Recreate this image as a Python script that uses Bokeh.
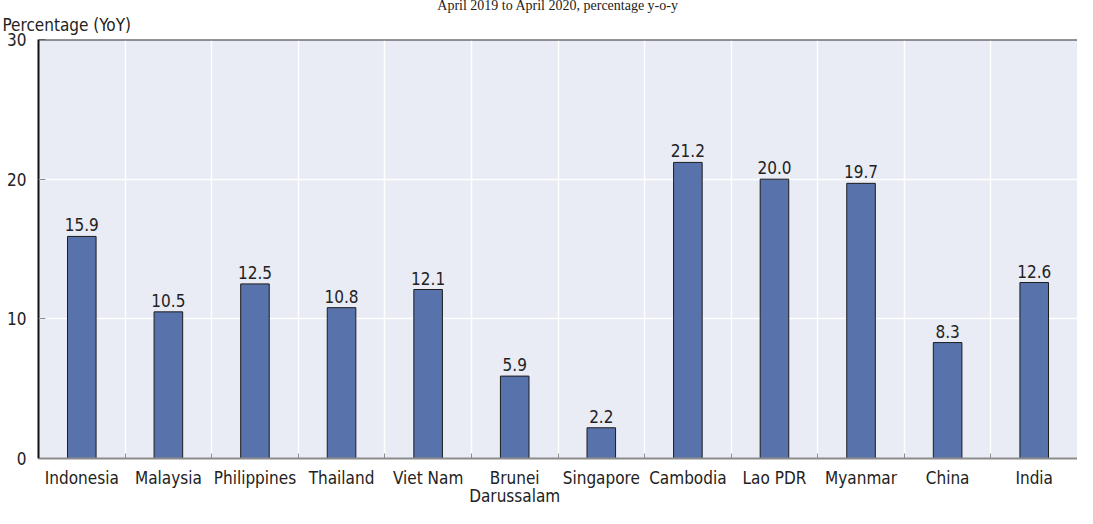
from bokeh.plotting import figure
from bokeh.models import ColumnDataSource, FixedTicker, LabelSet, Title, Span, Range1d
from bokeh.core.properties import value
from bokeh.embed import file_html
from bokeh.resources import INLINE

categories = ["Indonesia", "Malaysia", "Philippines", "Thailand", "Viet Nam",
              "Brunei\nDarussalam", "Singapore", "Cambodia", "Lao PDR", "Myanmar",
              "China", "India"]
values = [15.9, 10.5, 12.5, 10.8, 12.1, 5.9, 2.2, 21.2, 20.0, 19.7, 8.3, 12.6]
y_ticks = [0, 10, 20, 30]
title_text = "April 2019 to April 2020, percentage y-o-y"
y_label = "Percentage (YoY)"

FONT = "DejaVu Sans Condensed"
n = len(categories)
xs = list(range(n))
centers = xs
bounds = [i + 0.5 for i in range(n - 1)]

src = ColumnDataSource(dict(x=xs, top=values, lab=[f"{v:.1f}" for v in values]))

p = figure(width=1077, height=508, output_backend="svg", toolbar_location=None,
           x_range=Range1d(-0.5, n - 0.5), y_range=Range1d(0, 30),
           min_border_left=38, min_border_top=0, min_border_bottom=0, min_border_right=0)
p.background_fill_color = "#e9ebf5"
p.border_fill_color = "white"
p.outline_line_color = None

# chart subtitle (outermost) and y-axis caption just above the frame
p.title.text = title_text
p.title.align = "center"
p.title.standoff = -10
p.title.text_font = "Liberation Serif"
p.title.text_font_size = "14px"
p.title.text_font_style = "normal"
p.title.text_color = "#222222"
p.add_layout(Title(text=y_label, align="left", offset=-36, standoff=10,
                   text_font=FONT, text_font_size="17px", text_line_height=1.0,
                   text_font_style="normal", text_color="#222222"), "above")

p.vbar(x="x", top="top", width=0.33, bottom=0, source=src,
       fill_color="#5873ab", line_color="#1c1c1c", line_width=1)

labels = LabelSet(x="x", y="top", text="lab", source=src, y_offset=5,
                  text_align="center", text_baseline="bottom",
                  text_font=value(FONT), text_font_size=value("17px"), text_color="#222222")
p.add_layout(labels)

# x axis
p.xaxis.ticker = FixedTicker(ticks=centers, minor_ticks=bounds)
p.xaxis.major_label_overrides = {i: c for i, c in enumerate(categories)}
p.xaxis.major_tick_line_color = None
p.xaxis.major_tick_in = 0
p.xaxis.major_tick_out = 0
p.xaxis.minor_tick_in = 5
p.xaxis.minor_tick_out = 0
p.xaxis.minor_tick_line_color = "#8c8c8c"
p.xaxis.axis_line_color = "#8c8c8c"
p.xaxis.axis_line_width = 2
p.xaxis.major_label_text_font = FONT
p.xaxis.major_label_text_font_size = "17px"
p.xaxis.major_label_text_color = "#222222"
p.xaxis.major_label_text_line_height = 0.9
p.xaxis.major_label_standoff = 9

# y axis
p.yaxis.ticker = FixedTicker(ticks=y_ticks)
p.yaxis.major_tick_in = 7
p.yaxis.major_tick_out = 0
p.yaxis.major_tick_line_color = "#8c8c8c"
p.yaxis.minor_tick_line_color = None
p.yaxis.axis_line_color = "#111111"
p.yaxis.axis_line_width = 2
p.yaxis.major_label_text_font = FONT
p.yaxis.major_label_text_font_size = "17px"
p.yaxis.major_label_text_color = "#222222"
p.yaxis.major_label_standoff = 12

# grids
p.xgrid.ticker = FixedTicker(ticks=bounds)
p.xgrid.grid_line_color = "white"
p.xgrid.grid_line_width = 1.5
p.ygrid.grid_line_color = "white"
p.ygrid.grid_line_width = 1.5

p.add_layout(Span(location=y_ticks[-1], dimension="width", line_color="#333333", line_width=2))

open("out.html", "w").write(file_html(p, INLINE))
